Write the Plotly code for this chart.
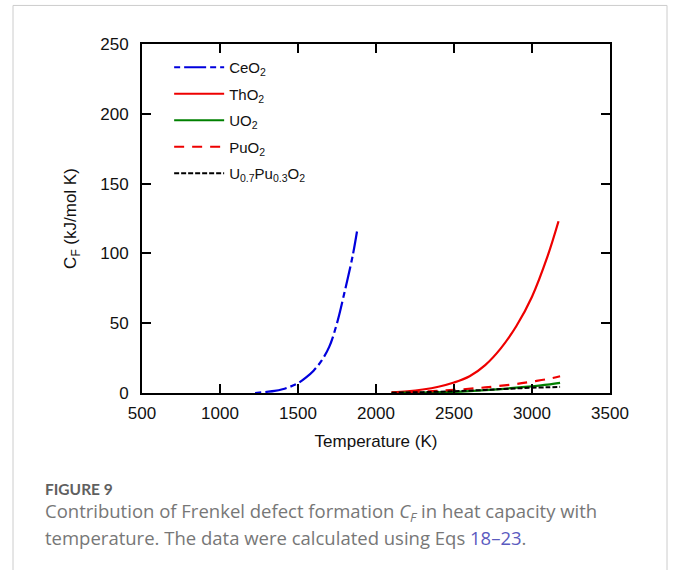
import plotly.graph_objects as go

# ---- data ----
temp_ceo2 = [1225, 1300, 1350, 1400, 1450, 1500, 1550, 1600, 1650, 1700, 1750, 1800, 1850, 1880]
cf_ceo2 = [0.0, 0.8, 1.5, 2.7, 4.5, 7.0, 11.0, 16.0, 23.0, 33.0, 50.0, 73.0, 98.0, 117.0]

temp_tho2 = [2100, 2200, 2300, 2400, 2500, 2600, 2700, 2800, 2900, 3000, 3100, 3170]
cf_tho2 = [0.5, 1.2, 2.5, 4.5, 7.5, 12.0, 20.0, 32.0, 48.0, 69.0, 98.0, 123.0]

temp_uo2 = [2100, 2300, 2500, 2600, 2700, 2800, 2900, 3000, 3100, 3180]
cf_uo2 = [0.1, 0.3, 0.8, 1.3, 2.0, 2.8, 3.8, 4.8, 6.0, 7.3]

temp_puo2 = [2100, 2300, 2500, 2700, 2900, 3000, 3100, 3180]
cf_puo2 = [0.3, 1.0, 2.2, 4.0, 6.5, 8.2, 10.0, 12.0]

temp_mox = [2100, 2300, 2500, 2700, 2800, 2900, 3000, 3100, 3180]
cf_mox = [0.2, 0.6, 1.3, 2.2, 2.8, 3.3, 3.8, 4.1, 4.4]

x_ticks = [500, 1000, 1500, 2000, 2500, 3000, 3500]
y_ticks = [0, 50, 100, 150, 200, 250]

fig = go.Figure()
fig.add_trace(go.Scatter(x=temp_ceo2, y=cf_ceo2, mode="lines", name="CeO<sub>2</sub>", legendgroup="a",
                         line=dict(color="#0000dd", width=2.2, dash="6px,4px,22px,4px", shape="spline")))
fig.add_trace(go.Scatter(x=temp_tho2, y=cf_tho2, mode="lines", name="ThO<sub>2</sub>", legendgroup="b",
                         line=dict(color="#ee0000", width=2.2, shape="spline")))
fig.add_trace(go.Scatter(x=temp_uo2, y=cf_uo2, mode="lines", name="UO<sub>2</sub>", legendgroup="c",
                         line=dict(color="#008000", width=2.2, shape="spline")))
fig.add_trace(go.Scatter(x=temp_puo2, y=cf_puo2, mode="lines", name="PuO<sub>2</sub>", legendgroup="d",
                         line=dict(color="#ee0000", width=2.2, dash="10px,8px", shape="spline")))
fig.add_trace(go.Scatter(x=temp_mox, y=cf_mox, mode="lines", name="U<sub>0.7</sub>Pu<sub>0.3</sub>O<sub>2</sub>",
                         legendgroup="e",
                         line=dict(color="#000000", width=2, dash="5px,2px", shape="spline")))

axis_font = dict(family="Liberation Sans, Arial, sans-serif", size=17, color="#111")

fig.update_layout(
    width=677, height=570,
    margin=dict(l=142, r=67, t=44, b=177),
    paper_bgcolor="white", plot_bgcolor="white",
    font=axis_font,
    showlegend=True,
    legend=dict(x=0.058, y=0.98, xanchor="left", yanchor="top",
                bgcolor="rgba(0,0,0,0)", font=dict(family="Liberation Sans, Arial, sans-serif", size=15, color="#111"),
                itemwidth=50, tracegroupgap=4),
    xaxis=dict(range=[500, 3500], tickvals=x_ticks, ticks="inside", ticklen=9, tickwidth=2,
               tickcolor="black", showline=True, linecolor="black", linewidth=2, mirror="ticks",
               showgrid=False, zeroline=False, tickfont=axis_font, ticklabelstandoff=4,
               title=dict(text="Temperature (K)", font=axis_font, standoff=13)),
    yaxis=dict(range=[0, 250], tickvals=y_ticks, ticks="inside", ticklen=9, tickwidth=2,
               tickcolor="black", showline=True, linecolor="black", linewidth=2, mirror="ticks",
               showgrid=False, zeroline=False, tickfont=axis_font, ticklabelstandoff=8,
               title=dict(text="C<sub>F</sub> (kJ/mol K)", font=axis_font, standoff=19)),
)

# card border
fig.add_shape(type="rect", xref="paper", yref="paper",
              x0=(13 - 142) / 468, x1=(667 - 142) / 468,
              y0=(393 - 600) / 348.5, y1=(393 - 6) / 348.5,
              line=dict(color="#cccccc", width=1), fillcolor="rgba(0,0,0,0)", layer="below")

cap_font = dict(family="Open Sans, Lato, sans-serif", size=18.5, color="#777777")
fig.add_annotation(xref="paper", yref="paper", x=(43 - 142) / 468, y=(393 - 489) / 348.5,
                   xanchor="left", yanchor="middle", showarrow=False,
                   text="<b>FIGURE 9</b>", font=dict(family="Lato, Open Sans, sans-serif", size=15.5, color="#606060"))
fig.add_annotation(xref="paper", yref="paper", x=(43 - 142) / 468, y=(393 - 512) / 348.5,
                   xanchor="left", yanchor="middle", showarrow=False,
                   text="Contribution of Frenkel defect formation <i>C<sub>F</sub></i> in heat capacity with",
                   font=cap_font)
fig.add_annotation(xref="paper", yref="paper", x=(43 - 142) / 468, y=(393 - 537) / 348.5,
                   xanchor="left", yanchor="middle", showarrow=False,
                   text="temperature. The data were calculated using Eqs <span style='color:#5b5bbf'>18–23</span>.",
                   font=cap_font)

fig.write_html("out.html")
